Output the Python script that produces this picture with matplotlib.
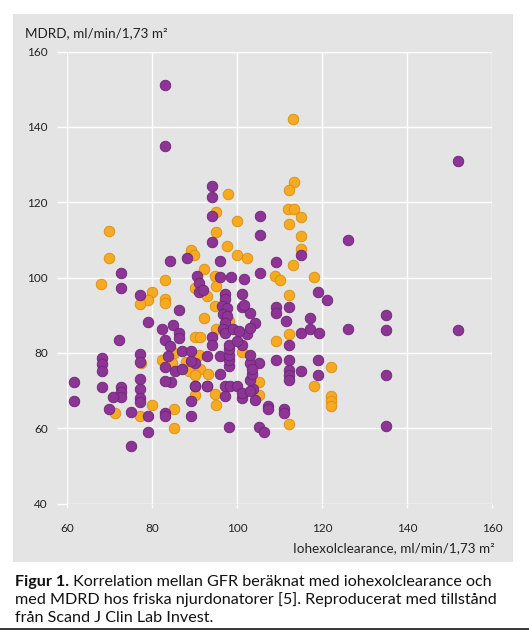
import matplotlib.pyplot as plt
from matplotlib.patches import Rectangle

# iohexolclearance (x) vs MDRD (y), two donor groups
purple_x = [83, 83, 152, 126, 135, 135, 152, 135, 135,
            61.5, 61.5, 68.2, 68.2, 68.2, 68.2, 72.2, 72.6, 72.6,
            72.7, 72.7, 72.7, 70.8, 69.8, 75, 75, 79.1, 79.1,
            77, 77, 77, 77, 77, 77, 79.1, 77,
            84.2, 88.2, 90.6, 94.1, 94.1, 94.1, 105.4, 105.4, 94.1,
            115.1, 96, 109.1, 105.4, 96, 98.4, 101.6,
            119, 121.2, 112.2, 109.1, 109.1, 111.4, 117.1,
            115.1, 117.1, 119.2, 126.1,
            112.2, 109.1, 112.2, 119, 105.2, 115.1, 119,
            112.2, 112.2, 112.2, 103.6, 104.2, 107.2, 107.2, 111, 111, 105.1, 106.2,
            98, 83, 83, 89, 89, 97.1, 97.1, 98.3, 99.9, 101.1, 90.1, 92.8, 84.4, 83,
            86.2, 82.2, 84.8, 86.2, 86.2, 83, 94, 84.1, 87, 89.2, 94, 83.8, 83, 85.4,
            87, 90.1, 92.8, 96, 96, 90.1, 92.8,
            91.1, 91.1, 97.1, 97.1, 101.1, 96.3, 97.5, 101.1, 96.7, 97.5, 103, 104.2,
            97.1, 98.1, 98.1, 98.1, 98.1, 98.1, 101.1, 99.9, 102.3, 103, 96.7, 97.1,
            99.1, 100.3, 103, 103.1, 103, 103.4, 103.4, 101.1, 103, 89.2, 92, 101.6]
purple_y = [151, 135, 131, 110, 90, 86, 86, 74, 60.5,
            72.3, 67.2, 78.7, 77, 75.2, 71, 83.3, 101.3, 97.2,
            71, 69.5, 68.3, 68.3, 65.2, 64.2, 55.2, 59, 63.2,
            79.6, 77.5, 73, 70.5, 68, 67, 88.2, 95.3,
            104.3, 105.2, 100.4, 124.3, 121.3, 116.2, 116.3, 111.2, 109.4,
            106.1, 104.4, 104.2, 101.2, 100.2, 100.2, 99.7,
            96.2, 94.1, 92.3, 92.3, 90.6, 88.4, 89.3,
            85.2, 86.3, 85.2, 86.2,
            82.1, 78.2, 78.2, 78.2, 77.3, 75.1, 74.2,
            75.4, 74.1, 72.9, 70.3, 67.4, 66, 65.1, 65, 63.9, 60.2, 59,
            60.3, 64.1, 63.1, 63.2, 67.2, 68.5, 71.2, 71.3, 71.3, 68.1, 71.3, 71.3, 72.2, 72.5,
            91.5, 86.2, 87.4, 85.3, 84, 83.3, 84.3, 81.8, 80.4, 80.4, 82.2, 79.1, 76.3, 75.1,
            75.6, 77.4, 79.1, 79.1, 74.3, 71.2, 71.2,
            98.6, 96.1, 95.5, 94.2, 95.5, 92.4, 92, 92.2, 90.2, 89.7, 90.6, 88,
            88, 76.5, 78.2, 79.5, 80.9, 82.2, 82.2, 83.1, 84.9, 86.6, 86.2, 85.3,
            86.2, 85.8, 77.4, 79.3, 72.9, 74.3, 75.6, 69.4, 69.8, 77.8, 96.8, 92.8]

orange_x = [113.2, 113.3, 112.1, 97.8, 94.9, 100, 111.9, 113.3, 115.1, 112.2,
            69.9, 94.9, 115.1, 97.6, 115.1, 69.9, 89.1, 89.9, 100, 102.3,
            113.2, 92.1, 108.9, 110.1, 118, 83, 68, 94.7, 95.1, 90.1,
            80, 83, 83, 79.1, 77.2, 92.9, 112.1, 92.1, 95, 98,
            90.1, 91.3, 109.1, 112.1, 101.1, 85, 82.2, 84.6, 88, 91,
            88.6, 91.3, 90, 93, 122.1, 105.2, 118, 122.1, 122.1, 122.1,
            105.2, 90.1, 94.8, 95.1, 85.2, 85.2, 80, 77, 71.2, 112.2,
            77.3, 94.7]
orange_y = [142.1, 125.3, 123.3, 122.3, 117.4, 115, 118.1, 118.1, 116.1, 114.3,
            112.3, 112, 111.1, 108.3, 107.5, 105.2, 107.3, 106.1, 106.1, 105.2,
            103.2, 102.3, 100.4, 99.4, 100.2, 99.3, 98.3, 100.4, 97.7, 97.3,
            96.2, 94.2, 93.3, 94, 93, 95, 95.3, 89.3, 86.3, 88.4,
            84.2, 84.2, 83.2, 85.1, 80.1, 80, 78.2, 77.4, 77.6, 79.3,
            75.1, 75.6, 74, 74.3, 76.3, 72.2, 71.2, 68.5, 67.2, 66,
            68.7, 68.8, 69.2, 66.1, 65.2, 60, 66.1, 63.2, 64, 61.2,
            77.2, 92.4]

x_ticks = [60, 80, 100, 120, 140, 160]
y_ticks = [40, 60, 80, 100, 120, 140, 160]

PURPLE = "#8c3595"
ORANGE = "#f5aa1f"
PANEL = "#e4e4e4"

plt.rcParams["font.family"] = ["Lato", "DejaVu Sans"]

W, H = 529, 630
fig = plt.figure(figsize=(W / 100, H / 100), dpi=100)

# grey panel behind the chart
fig.patches.append(Rectangle((13 / W, 1 - 562 / H), 500 / W, 548 / H,
                             transform=fig.transFigure, facecolor=PANEL,
                             edgecolor="none", zorder=-5))
# thin dark line at the bottom edge
fig.patches.append(Rectangle((0, 0), 1, 2 / H, transform=fig.transFigure,
                             facecolor="#3a3a3a", edgecolor="none", zorder=-5))

ax = fig.add_axes([67.3 / W, 1 - 503.5 / H, 425 / W, 452 / H])
ax.set_facecolor(PANEL)
ax.set_xlim(60, 160)
ax.set_ylim(40, 160)
ax.set_xticks(x_ticks)
ax.set_yticks(y_ticks)
ax.grid(True, color="white", linewidth=1.0)
ax.set_axisbelow(True)
for s in ax.spines.values():
    s.set_visible(False)
ax.tick_params(axis="y", length=7, width=1.0, color="white", pad=7,
               labelsize=8.5, labelcolor="#222222")
ax.tick_params(axis="x", length=3, width=1.0, color="white", pad=11,
               labelsize=8.5, labelcolor="#222222")

ax.scatter(orange_x, orange_y, s=58, color=ORANGE, edgecolor="#d98d10",
           linewidth=0.6, zorder=3)
ax.scatter(purple_x, purple_y, s=58, color=PURPLE, edgecolor="#6e2478",
           linewidth=0.6, zorder=4)

fig.text(25 / W, 1 - 33 / H, "MDRD, ml/min/1,73 m²", fontsize=9.7,
         color="#222222", va="center", ha="left")
fig.text(495 / W, 1 - 548 / H, "Iohexolclearance, ml/min/1,73 m²",
         fontsize=9.7, color="#222222", va="center", ha="right")

# caption
cap = 11.6
b = fig.text(15 / W, 1 - 586 / H, "Figur 1.", fontsize=cap,
             fontweight="bold", va="baseline", ha="left", color="#111111")
ax.annotate(" Korrelation mellan GFR beräknat med iohexolclearance och",
            xy=(1, 1 - 586 / H), xycoords=(b, "figure fraction"),
            fontsize=cap, va="baseline", ha="left", color="#111111",
            annotation_clip=False)
fig.text(15 / W, 1 - 604 / H,
         "med MDRD hos friska njurdonatorer [5]. Reproducerat med tillstånd",
         fontsize=cap, va="baseline", ha="left", color="#111111")
fig.text(15 / W, 1 - 622 / H, "från Scand J Clin Lab Invest.",
         fontsize=cap, va="baseline", ha="left", color="#111111")

fig.savefig("out.png", dpi=100)
